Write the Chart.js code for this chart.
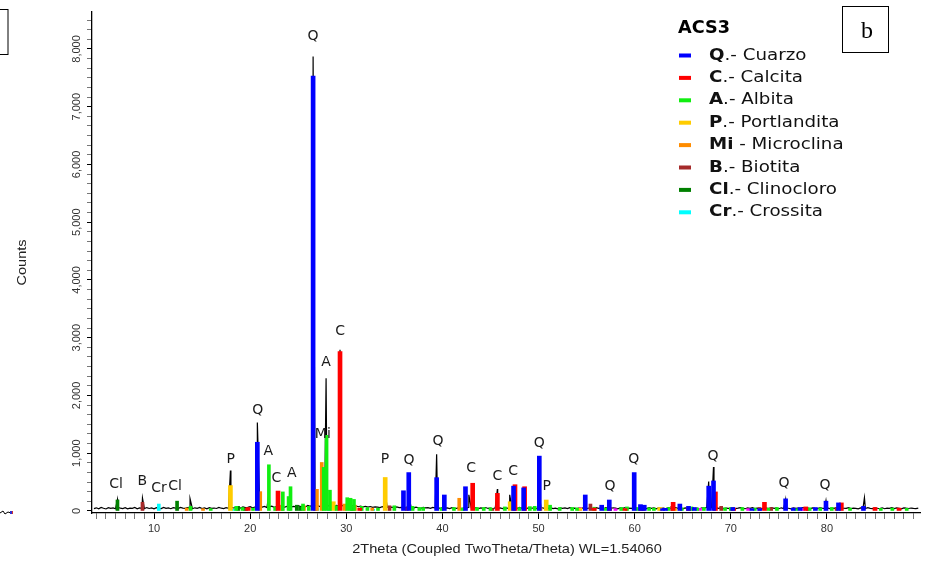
<!DOCTYPE html>
<html>
<head>
<meta charset="utf-8">
<title>ACS3</title>
<script src="https://cdn.jsdelivr.net/npm/chart.js@4.4.1/dist/chart.umd.min.js"></script>
<style>
  html, body { margin: 0; padding: 0; background: #fff; }
  canvas { display: block; }
</style>
</head>
<body>
<canvas id="xrd" width="933" height="564"></canvas>
<script>
// measured scan, background counts on a fixed 0.25 deg step
var scanStart = 3.75;
var scanStep = 0.25;
var scanCounts = [
  42, 55, 38, 61, 47, 35, 58, 44, 52, 39,
  63, 48, 41, 57, 36, 50, 45, 60, 38, 54,
  47, 40, 59, 43, 52, 37, 56, 46, 41, 62,
  45, 53, 39, 58, 48, 42, 61, 50, 44, 57,
  49, 38, 55, 46, 60, 41, 52, 37, 58, 45,
  51, 43, 62, 48, 40, 56, 47, 66, 52, 58,
  64, 50, 71, 57, 62, 75, 55, 68, 60, 72,
  66, 78, 58, 70, 82, 63, 74, 67, 85, 61,
  76, 88, 69, 80, 72, 92, 75, 84, 70, 95,
  80, 102, 86, 94, 78, 110, 90, 98, 84, 105,
  88, 96, 82, 100, 86, 92, 78, 95, 83, 90,
  74, 86, 70, 81, 66, 77, 63, 72, 68, 60,
  74, 58, 69, 55, 66, 52, 71, 58, 63, 50,
  67, 54, 61, 49, 65, 56, 47, 62, 53, 59,
  45, 63, 51, 57, 44, 60, 49, 55, 42, 58,
  50, 46, 61, 43, 55, 48, 64, 52, 45, 57,
  41, 54, 47, 60, 44, 51, 39, 56, 48, 53,
  42, 59, 46, 63, 50, 57, 44, 61, 49, 55,
  43, 58, 47, 52, 40, 56, 62, 48, 54, 45,
  57, 42, 50, 38, 55, 46, 52, 40, 58, 44,
  49, 37, 54, 45, 60, 41, 51, 47, 39, 56,
  44, 52, 38, 57, 46, 41, 55, 48, 36, 53,
  45, 59, 40, 50, 43, 56, 47, 38, 54, 49,
  41, 57, 46, 52, 37, 55, 44, 50, 39, 58,
  47, 42, 56, 45, 51, 38, 54, 46, 41, 57,
  43, 50, 39, 55, 48, 62, 52, 58, 47, 53,
  44, 56, 40, 51, 46, 38, 54, 42, 49, 57,
  45, 39, 53, 47, 58, 41, 50, 44, 36, 55,
  48, 42, 57, 46, 52, 39, 55, 43, 50, 47,
  38, 54, 45, 51, 41, 57, 44, 49, 37, 53,
  46, 40, 55, 48, 43, 58, 42, 51, 45, 56,
  39, 52, 47, 44, 57, 41, 50, 46, 38, 54,
  48, 43, 56, 45, 40, 53, 47, 42, 55, 39,
  50, 44, 58, 41, 52, 46, 37, 54, 48, 43,
  51, 45, 40, 49
];

// reflection tops of the scan [2theta, counts]
var scanPeaks = [[6.2, 200], [8.8, 225], [13.75, 215], [17.95, 700], [20.75, 1530], [21.95, 300],
  [26.55, 7870], [27.9, 2300], [29.35, 2790], [34.05, 320], [36.5, 260], [39.4, 980],
  [42.75, 280], [45.72, 380], [47.0, 280], [50.08, 300], [59.95, 250], [67.7, 510],
  [68.2, 760], [75.7, 200], [79.9, 180], [83.9, 230]];

// reference patterns of the identified phases [2theta, counts]
var quartzPeaks = [[20.75, 1190], [26.55, 7530], [35.95, 350], [36.5, 665], [39.4, 577], [40.2, 277],
  [42.4, 420], [47.4, 430], [48.45, 400], [50.08, 950], [54.86, 277], [56.57, 100], [57.36, 190],
  [59.95, 665], [60.6, 110], [61.0, 100], [62.9, 40], [63.2, 45], [64.7, 120], [65.6, 80], [66.2, 60],
  [67.7, 430], [68.2, 520], [70.2, 60], [72.2, 40], [73.0, 40], [75.7, 210], [76.5, 50], [77.2, 60],
  [78.8, 60], [79.9, 170], [81.2, 140], [83.8, 80]];
var calcitePeaks = [[19.8, 60], [22.9, 345], [29.35, 2760], [31.4, 50], [43.15, 480], [45.72, 305],
  [47.55, 455], [48.55, 420], [55.8, 50], [57.4, 60], [59.0, 40], [60.7, 60], [64.0, 150], [65.6, 50],
  [68.4, 330], [70.3, 50], [73.5, 150], [77.8, 70], [81.5, 140], [85.0, 60], [87.5, 50]];
var albitePeaks = [[13.8, 80], [15.9, 40], [18.55, 80], [19.2, 60], [20.3, 50], [21.95, 800], [22.6, 70],
  [23.4, 330], [24.0, 250], [24.2, 420], [25.5, 120], [26.1, 80], [27.65, 755], [27.95, 1310], [28.3, 360],
  [29.0, 90], [30.1, 230], [30.45, 220], [30.8, 200], [31.6, 80], [32.2, 60], [33.3, 50], [35.0, 90],
  [36.9, 80], [37.6, 60], [38.0, 60], [39.9, 55], [41.2, 60], [42.1, 50], [43.6, 60], [44.3, 60],
  [45.0, 55], [46.5, 70], [48.0, 60], [49.1, 75], [49.6, 80], [51.2, 100], [52.2, 60], [53.5, 60],
  [54.0, 55], [55.8, 65], [57.0, 50], [58.6, 60], [59.2, 70], [60.3, 60], [61.5, 55], [62.0, 50],
  [63.5, 60], [64.9, 55], [65.9, 70], [66.5, 50], [67.2, 60], [69.4, 55], [70.0, 60], [71.2, 60],
  [72.5, 50], [73.9, 50], [74.8, 60], [76.8, 40], [78.2, 55], [79.3, 50], [80.5, 60], [82.4, 50],
  [85.6, 45], [86.8, 50], [88.3, 45]];
var portlanditePeaks = [[17.95, 440], [28.65, 160], [34.05, 580], [47.05, 160], [50.8, 190],
  [54.3, 50], [62.6, 60], [64.2, 40]];
var microclinePeaks = [[13.4, 50], [15.1, 40], [21.05, 335], [23.3, 100], [25.6, 90], [26.95, 375],
  [27.45, 840], [29.8, 120], [30.9, 100], [32.7, 50], [41.75, 220], [50.2, 60]];
var biotitePeaks = [[8.8, 150], [19.6, 50], [26.75, 80], [34.5, 90], [36.3, 60], [45.2, 40],
  [55.4, 120], [60.9, 50], [63.9, 80], [69.0, 80], [73.0, 60], [74.2, 60], [78.0, 50], [81.0, 60]];
var clinochlorePeaks = [[6.2, 190], [12.4, 170], [18.75, 80], [19.45, 50], [24.85, 100], [25.2, 70], [30.6, 60]];
var crossitePeaks = [[10.5, 120], [18.3, 30], [27.0, 40], [28.2, 40], [32.8, 30]];
var otherPeaks = [[54.3, 60], [58.0, 40], [62.7, 50], [66.8, 45], [71.8, 40], [77.5, 40]];

var phaseCodes = ['Q', 'C', 'A', 'P', 'Mi', 'B', 'Cl', 'Cr'];
var phaseNames = ['.- Cuarzo', '.- Calcita', '.- Albita', '.- Portlandita', ' - Microclina', '.- Biotita', '.- Clinocloro', '.- Crossita'];
var phasePeaks = [quartzPeaks, calcitePeaks, albitePeaks, portlanditePeaks, microclinePeaks,
  biotitePeaks, clinochlorePeaks, crossitePeaks];
var phaseColors = ['#0000ff', '#ff0000', '#11ee11', '#ffcc00', '#ff8c00', '#a52a2a', '#008000', '#00ffff'];
var phaseWidths = [4, 4, 3, 4, 3, 3, 3, 3];

// peak labels [2theta, counts at label centre]
var labelText = ['Cl', 'B', 'Cr', 'Cl', 'P', 'Q', 'A', 'C', 'A', 'Q', 'A', 'Mi', 'C', 'P', 'Q', 'Q', 'C', 'C', 'C', 'Q', 'P', 'Q', 'Q', 'Q', 'Q', 'Q'];
var labelAngle = [6.05, 8.78, 10.52, 12.2, 17.97, 20.78, 21.88, 22.74, 24.33, 26.54, 27.89, 27.56, 29.35, 34.03, 36.52, 39.55, 43.0, 45.71, 47.37, 50.07, 50.84, 57.43, 59.9, 68.16, 75.53, 79.8];
var labelCounts = [465, 515, 400, 430, 900, 1750, 1025, 565, 655, 8225, 2575, 1335, 3105, 900, 883, 1200, 740, 600, 680, 1170, 420, 420, 900, 940, 480, 435];

var xMin = 3.55, xMax = 89.68;
var yMin = -35, yMax = 8640;
var yMinorStep = 1000 / 6;

var scanPoints = scanCounts.map(function (c, i) {
  return { x: scanStart + i * scanStep, y: c };
});
scanPeaks.forEach(function (p) { scanPoints.push({ x: p[0], y: p[1] }); });
scanPoints.sort(function (a, b) { return a.x - b.x; });

function barSet(label, peaks, color, width) {
  return {
    type: 'bar',
    label: label,
    data: peaks.map(function (p) { return { x: p[0], y: p[1] }; }),
    backgroundColor: color,
    borderWidth: 0,
    barThickness: width,
    grouped: false,
    order: 1
  };
}

var datasets = phasePeaks.map(function (peaks, i) {
  return barSet(phaseCodes[i], peaks, phaseColors[i], phaseWidths[i]);
});
datasets.push(barSet('other', otherPeaks, '#ff00ff', 3));
datasets.push({
  type: 'line',
  label: 'ACS3',
  data: scanPoints,
  borderColor: '#000',
  borderWidth: 1.2,
  pointRadius: 0,
  tension: 0,
  fill: false,
  order: 10
});

var axisFont = '"Liberation Sans", Arial, sans-serif';
var markFont = '"DejaVu Sans", Verdana, sans-serif';

function isMultiple(v, step) {
  return Math.abs(v / step - Math.round(v / step)) < 1e-6;
}

// text drawn slightly widened along its own direction
function wideText(c, text, x, y, angle, sx) {
  c.save();
  c.translate(x, y);
  c.rotate(angle);
  c.scale(sx, 1);
  c.fillText(text, 0, 0);
  c.restore();
}

var annotate = {
  id: 'annotate',
  beforeDraw: function (chart) {
    var c = chart.ctx;
    c.save();
    c.fillStyle = '#fff';
    c.fillRect(0, 0, chart.width, chart.height);
    c.restore();
  },
  afterDraw: function (chart) {
    var c = chart.ctx, xs = chart.scales.x, ys = chart.scales.y, area = chart.chartArea;
    c.save();

    // vertical count labels
    c.font = '11px ' + axisFont;
    c.fillStyle = '#333';
    c.textAlign = 'center';
    c.textBaseline = 'middle';
    ys.ticks.forEach(function (t) {
      if (!isMultiple(t.value, 1000)) return;
      var v = Math.round(t.value);
      wideText(c, v.toLocaleString('en-US'), ys.right - 15.5, ys.getPixelForValue(v), -Math.PI / 2, 1);
    });

    // axis titles
    c.font = '13px ' + axisFont;
    c.fillStyle = '#222';
    wideText(c, 'Counts', 22, (area.top + area.bottom) / 2, -Math.PI / 2, 1.12);
    wideText(c, '2Theta (Coupled TwoTheta/Theta) WL=1.54060', (area.left + area.right) / 2 + 1, 549, 0, 1.12);

    // phase marks over the peaks
    c.font = '14px ' + markFont;
    c.fillStyle = '#1a1a1a';
    labelText.forEach(function (t, i) {
      c.fillText(t, xs.getPixelForValue(labelAngle[i]), ys.getPixelForValue(labelCounts[i]));
    });

    // legend
    c.textAlign = 'left';
    c.font = 'bold 17px ' + markFont;
    c.fillStyle = '#000';
    wideText(c, 'ACS3', 678, 29, 0, 1.04);
    var sx = 1.14;
    phaseCodes.forEach(function (code, i) {
      var y = 55.5 + i * 22.4;
      c.fillStyle = phaseColors[i];
      c.fillRect(679, y - 2, 12, 4);
      c.fillStyle = '#111';
      c.font = 'bold 16px ' + markFont;
      wideText(c, code, 709, y, 0, sx);
      var w = c.measureText(code).width * sx;
      c.font = '16px ' + markFont;
      wideText(c, phaseNames[i], 709 + w, y, 0, sx);
    });

    // panel tag
    c.strokeStyle = '#000';
    c.lineWidth = 1;
    c.strokeRect(842.5, 6.5, 46, 46);
    c.font = '24px "Liberation Serif", "Times New Roman", serif';
    c.textAlign = 'center';
    c.fillStyle = '#000';
    c.fillText('b', 867, 32);

    // edge of the neighbouring panel
    c.strokeRect(-40, 9.5, 48, 45);
    c.beginPath();
    c.moveTo(0, 513);
    c.lineTo(3, 511);
    c.lineTo(5, 514);
    c.lineTo(8, 512);
    c.lineTo(11, 513);
    c.stroke();
    c.fillStyle = '#3030d0';
    c.fillRect(10, 511, 2, 3);
    c.fillStyle = '#d03030';
    c.fillRect(12, 511, 1, 3);

    c.restore();
  }
};

var ctx = document.getElementById('xrd').getContext('2d');

var xrdChart = new Chart(ctx, {
  type: 'bar',
  data: { datasets: datasets },
  options: {
    responsive: false,
    animation: false,
    layout: { padding: { top: 12, right: 13, left: 0, bottom: 0 } },
    plugins: {
      legend: { display: false },
      tooltip: { enabled: false }
    },
    scales: {
      x: {
        type: 'linear',
        min: xMin,
        max: xMax,
        offset: false,
        grid: {
          offset: false,
          drawOnChartArea: false,
          drawTicks: true,
          tickLength: 6,
          tickColor: function (c) { return c.tick && isMultiple(c.tick.value, 10) ? '#000' : '#777'; }
        },
        border: { display: true, color: '#000', width: 1.3 },
        ticks: {
          stepSize: 1,
          autoSkip: false,
          includeBounds: false,
          maxRotation: 0,
          padding: 3,
          color: '#333',
          font: { family: axisFont, size: 11 },
          callback: function (v) { return isMultiple(v, 10) ? String(Math.round(v)) : ''; }
        },
        afterFit: function (s) { s.height = 51; }
      },
      y: {
        min: yMin,
        max: yMax,
        grid: {
          drawOnChartArea: false,
          drawTicks: true,
          tickLength: 5,
          tickColor: function (c) { return c.tick && isMultiple(c.tick.value, 1000) ? '#000' : '#777'; }
        },
        border: { display: true, color: '#000', width: 1.3 },
        ticks: {
          autoSkip: false,
          color: 'rgba(0,0,0,0)',
          callback: function () { return ''; }
        },
        // minor ticks at sixths of a thousand counts
        afterBuildTicks: function (s) {
          var t = [];
          for (var k = 0; k * yMinorStep <= yMax; k++) t.push({ value: k * yMinorStep });
          s.ticks = t;
        },
        afterFit: function (s) { s.width = 92; }
      }
    }
  },
  plugins: [annotate]
});
</script>
</body>
</html>
